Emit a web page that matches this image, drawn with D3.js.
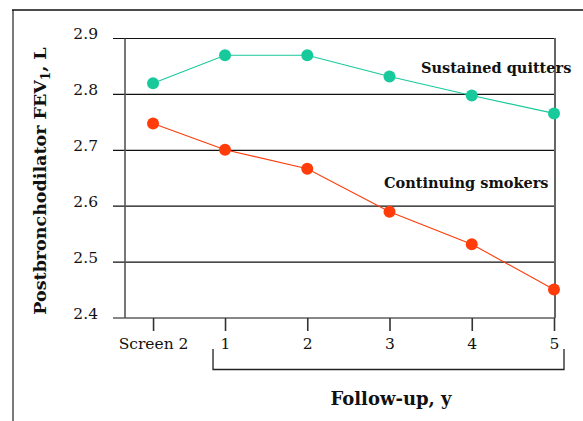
<!DOCTYPE html>
<html lang="en">
<head>
<meta charset="utf-8">
<title>FEV1 by follow-up</title>
<script src="https://cdn.jsdelivr.net/npm/d3@7/dist/d3.min.js"></script>
<style>
  body { margin: 0; background: #fff; }
  svg text { font-family: "DejaVu Serif", serif; fill: #111; }
  .tick text { font-size: 15.5px; }
  .bold { font-weight: bold; }
</style>
</head>
<body>
<svg id="chart" width="583" height="421"></svg>
<script>
// data
const tickLabels = ['Screen 2', '1', '2', '3', '4', '5'];
const timepoints = [0.125, 1, 2, 3, 4, 5];   // years; screen 2 sits just before year 1
const quitters = [2.82, 2.87, 2.87, 2.832, 2.798, 2.766];
const smokers = [2.748, 2.701, 2.667, 2.59, 2.532, 2.451];
const yTicks = [2.4, 2.5, 2.6, 2.7, 2.8, 2.9];

const svg = d3.select('#chart');

const x = d3.scaleLinear().domain([-0.362, 5]).range([113, 554]);
const y = d3.scaleLinear().domain([2.4, 2.9]).range([318, 38.5]);

// outer frame
svg.append('line').attr('x1', 13).attr('x2', 13).attr('y1', 10).attr('y2', 421)
  .attr('stroke', '#7a7a7a').attr('stroke-width', 2);
svg.append('line').attr('x1', 12).attr('x2', 583).attr('y1', 10).attr('y2', 10)
  .attr('stroke', '#111').attr('stroke-width', 1.5);

// gridlines
svg.append('g').selectAll('line')
  .data(yTicks)
  .enter().append('line')
  .attr('x1', 113).attr('x2', 555)
  .attr('y1', d => y(d)).attr('y2', d => y(d))
  .attr('stroke', '#111').attr('stroke-width', 1.2);

// plot frame sides
svg.append('line').attr('x1', 125).attr('x2', 125).attr('y1', y(2.9)).attr('y2', y(2.4))
  .attr('stroke', '#555').attr('stroke-width', 1.6);
svg.append('line').attr('x1', 555).attr('x2', 555).attr('y1', y(2.9) - 0.5).attr('y2', y(2.4))
  .attr('stroke', '#666').attr('stroke-width', 2);

// y axis labels
const yAxis = svg.append('g')
  .attr('transform', 'translate(113,0)')
  .call(d3.axisLeft(y).tickValues(yTicks).tickFormat(d3.format('.1f')).tickSize(0).tickPadding(15));
yAxis.select('.domain').remove();
yAxis.selectAll('text').attr('dy', '-0.0em');

// x axis
const xAxis = svg.append('g')
  .attr('transform', `translate(0,${y(2.4)})`)
  .call(d3.axisBottom(x).tickValues(timepoints).tickFormat((d, i) => tickLabels[i]).tickSizeInner(13).tickSizeOuter(0).tickPadding(7));
xAxis.select('.domain').remove();
xAxis.selectAll('line').attr('stroke', '#333').attr('stroke-width', 1.6);

// bracket under follow-up years
svg.append('path')
  .attr('d', `M${x(1) - 12},349 V369.5 H564 V349`)
  .attr('fill', 'none').attr('stroke', '#222').attr('stroke-width', 1.3);

// series
const line = d3.line().x((d, i) => x(timepoints[i])).y(d => y(d));
const series = [
  { name: 'Sustained quitters', values: quitters, color: '#18c99b' },
  { name: 'Continuing smokers', values: smokers, color: '#ff3c0a' }
];
series.forEach(s => {
  svg.append('path').datum(s.values)
    .attr('d', line).attr('fill', 'none')
    .attr('stroke', s.color).attr('stroke-width', 1.1);
  svg.append('g').selectAll('circle')
    .data(s.values)
    .enter().append('circle')
    .attr('cx', (d, i) => x(timepoints[i]))
    .attr('cy', d => y(d))
    .attr('r', 6)
    .attr('fill', s.color);
});

// series labels
svg.append('text').attr('class', 'bold')
  .attr('x', 421).attr('y', 73)
  .style('font-size', '14.5px')
  .text('Sustained quitters');
svg.append('text').attr('class', 'bold')
  .attr('x', 384).attr('y', 188)
  .style('font-size', '14.5px')
  .text('Continuing smokers');

// axis titles
const yTitle = svg.append('text').attr('class', 'bold')
  .attr('transform', 'translate(46,181) rotate(-90)')
  .attr('text-anchor', 'middle')
  .style('font-size', '17.5px');
yTitle.append('tspan').text('Postbronchodilator FEV');
yTitle.append('tspan').attr('dy', 4).style('font-size', '12px').text('1');
yTitle.append('tspan').attr('dy', -4).text(', L');

svg.append('text').attr('class', 'bold')
  .attr('x', 391).attr('y', 405)
  .attr('text-anchor', 'middle')
  .style('font-size', '18px')
  .text('Follow-up, y');
</script>
</body>
</html>
